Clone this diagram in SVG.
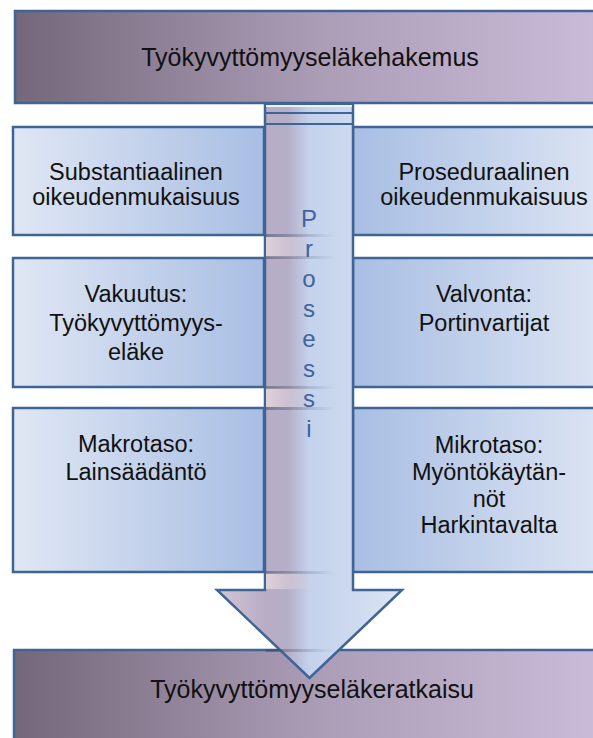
<svg xmlns="http://www.w3.org/2000/svg" width="593" height="738" viewBox="0 0 593 738">
<defs>
<style>
.bar{stroke:#3f6496;stroke-width:2.5;fill:url(#gBar)}
.lbox{stroke:#3f6496;stroke-width:2.5;fill:url(#gLeft)}
.rbox{stroke:#3f6496;stroke-width:2.5;fill:url(#gRight)}
.t{font-family:"Liberation Sans",Arial,sans-serif;font-size:23.5px;fill:#111;text-anchor:middle}
.tt{font-family:"Liberation Sans",Arial,sans-serif;font-size:25px;fill:#111;text-anchor:middle}
.p{font-family:"Liberation Sans",Arial,sans-serif;font-size:24px;fill:#41639a;text-anchor:middle}
</style>
<linearGradient id="gBar" x1="0" y1="0" x2="1" y2="0">
<stop offset="0" stop-color="#74677a"/>
<stop offset="0.5" stop-color="#ab9db6"/>
<stop offset="1" stop-color="#cdbfdc"/>
</linearGradient>
<linearGradient id="gLeft" x1="0" y1="0" x2="1" y2="0">
<stop offset="0" stop-color="#e0e7f4"/>
<stop offset="1" stop-color="#a8bee3"/>
</linearGradient>
<linearGradient id="gRight" x1="0" y1="0" x2="1" y2="0">
<stop offset="0" stop-color="#a8bee3"/>
<stop offset="1" stop-color="#e0e7f4"/>
</linearGradient>
<linearGradient id="gArrow" gradientUnits="userSpaceOnUse" x1="217" y1="0" x2="402" y2="0">
<stop offset="0" stop-color="#d2c6d6"/>
<stop offset="0.26" stop-color="#b8adc5"/>
<stop offset="0.38" stop-color="#b6adc7"/>
<stop offset="0.5" stop-color="#c4d2ec"/>
<stop offset="0.7" stop-color="#cbd8ef"/>
<stop offset="1" stop-color="#dce5f4"/>
</linearGradient>
<linearGradient id="gShade" gradientUnits="userSpaceOnUse" x1="265" y1="0" x2="335" y2="0">
<stop offset="0" stop-color="#3c4660" stop-opacity="0.5"/>
<stop offset="1" stop-color="#3c4660" stop-opacity="0"/>
</linearGradient>
<linearGradient id="gPink" gradientUnits="userSpaceOnUse" x1="265" y1="0" x2="315" y2="0">
<stop offset="0" stop-color="#e6d8de" stop-opacity="0.85"/>
<stop offset="1" stop-color="#e6d8de" stop-opacity="0"/>
</linearGradient>
</defs>

<g id="row1-left"><rect class="lbox" x="13" y="127" width="251" height="108"/>
<text class="t" x="136" y="180">Substantiaalinen</text><text class="t" x="136" y="205">oikeudenmukaisuus</text></g>
<g id="row1-right"><rect class="rbox" x="353" y="127" width="270" height="108"/>
<text class="t" x="484" y="180">Proseduraalinen</text><text class="t" x="484" y="205">oikeudenmukaisuus</text></g>
<g id="row2-left"><rect class="lbox" x="13" y="258" width="251" height="129"/>
<text class="t" x="136" y="302">Vakuutus:</text><text class="t" x="136" y="331">Työkyvyttömyys-</text><text class="t" x="136" y="360">eläke</text></g>
<g id="row2-right"><rect class="rbox" x="353" y="258" width="270" height="129"/>
<text class="t" x="484" y="302">Valvonta:</text><text class="t" x="484" y="331">Portinvartijat</text></g>
<g id="row3-left"><rect class="lbox" x="13" y="408" width="251" height="164"/>
<text class="t" x="136" y="452">Makrotaso:</text><text class="t" x="136" y="480">Lainsäädäntö</text></g>
<g id="row3-right"><rect class="rbox" x="353" y="408" width="270" height="164"/>
<text class="t" x="489" y="453">Mikrotaso:</text><text class="t" x="489" y="480">Myöntökäytän-</text><text class="t" x="489" y="507">nöt</text><text class="t" x="489" y="533">Harkintavalta</text></g>

<g id="bottom"><rect class="bar" x="14" y="650" width="610" height="100"/>
<text class="tt" x="312" y="698">Työkyvyttömyyseläkeratkaisu</text></g>

<g id="connectors">
<g id="prosessi-arrow">
<path d="M265,104 H353 V590 H402 L309.5,678 L217,590 H265 Z" fill="url(#gArrow)" stroke="#3f6496" stroke-width="2.5" stroke-linejoin="miter"/>
<rect x="266" y="237" width="86" height="20" fill="url(#gPink)"/>
<rect x="266" y="388" width="86" height="19" fill="url(#gPink)"/>
<rect x="266" y="573" width="86" height="16" fill="url(#gPink)"/>
<rect x="266" y="234" width="86" height="3" fill="url(#gShade)"/>
<rect x="266" y="256" width="86" height="3" fill="url(#gShade)"/>
<rect x="266" y="386" width="86" height="3" fill="url(#gShade)"/>
<rect x="266" y="407" width="86" height="3" fill="url(#gShade)"/>
<rect x="266" y="571" width="86" height="3" fill="url(#gShade)"/>
<rect x="266" y="649" width="86" height="3" fill="url(#gShade)"/>
<line x1="265" y1="113" x2="353" y2="113" stroke="#3f6496" stroke-width="2"/>
<line x1="265" y1="124" x2="353" y2="124" stroke="#3f6496" stroke-width="2"/>
<line x1="266" y1="106" x2="352" y2="106" stroke="#eef2f8" stroke-width="2"/>
<text class="p" x="309" y="227">P</text>
<text class="p" x="309" y="257">r</text>
<text class="p" x="309" y="287">o</text>
<text class="p" x="309" y="317">s</text>
<text class="p" x="309" y="347">e</text>
<text class="p" x="309" y="377">s</text>
<text class="p" x="309" y="407">s</text>
<text class="p" x="309" y="437">i</text>
</g>
</g>

<g id="top"><rect class="bar" x="15" y="11" width="610" height="92"/>
<text class="tt" x="310" y="66">Työkyvyttömyyseläkehakemus</text></g>
</svg>
